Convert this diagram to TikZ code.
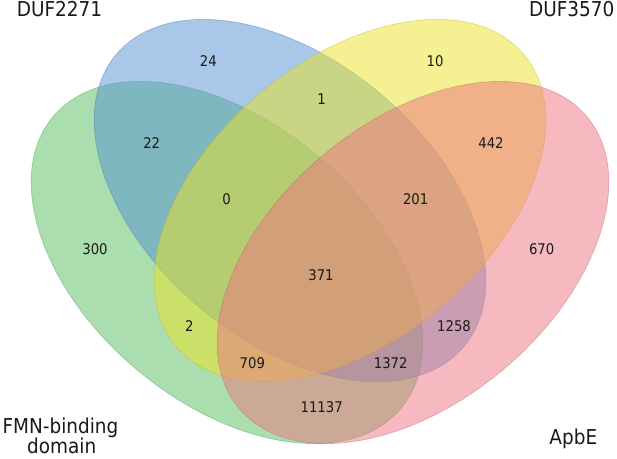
\documentclass[tikz,border=0pt]{standalone}
\usepackage{fontspec}
\setmainfont{DejaVu Sans}[FakeStretch=0.9]
\definecolor{cgreen}{RGB}{88,190,95}
\definecolor{cblue}{RGB}{85,145,210}
\definecolor{cyellow}{RGB}{236,226,36}
\definecolor{cred}{RGB}{238,116,128}
\tikzset{
  vset/.style={fill opacity=0.5, draw opacity=0.45, line width=0.6pt},
  num/.style={font=\fontsize{14.7}{16}\selectfont, inner sep=0pt, anchor=center, text=black!90},
  lab/.style={font=\fontsize{20.5}{24}\selectfont, inner sep=0pt, anchor=base, text=black!90}
}
\begin{document}
\begin{tikzpicture}[x=1pt,y=-1pt]
\fill[white] (0,0) rectangle (617,458);
\useasboundingbox (0,0) rectangle (617,458);
% sets
\filldraw[vset, fill=cgreen, draw=cgreen!80!black, rotate around={-40:(227,262.5)}] (227,262.5) ellipse [x radius=227, y radius=140];
\filldraw[vset, fill=cblue, draw=cblue!80!black, rotate around={-40:(290,200.5)}] (290,200.5) ellipse [x radius=227, y radius=140];
\filldraw[vset, fill=cyellow, draw=cyellow!80!black, rotate around={40:(350,200.5)}] (350,200.5) ellipse [x radius=227, y radius=140];
\filldraw[vset, fill=cred, draw=cred!80!black, rotate around={40:(413,262.5)}] (413,262.5) ellipse [x radius=227, y radius=140];
% counts
\node[num] (n24) at (208.3,61) {24};
\node[num] (n10) at (435,61) {10};
\node[num] (n1) at (321.7,99.3) {1};
\node[num] (n22) at (151.7,143.3) {22};
\node[num] (n442) at (491,142.7) {442};
\node[num] (n0) at (226.7,199.3) {0};
\node[num] (n201) at (415.7,199.3) {201};
\node[num] (n300) at (95,249.3) {300};
\node[num] (n670) at (541.7,249.3) {670};
\node[num] (n371) at (321,275) {371};
\node[num] (n2) at (189.3,325.7) {2};
\node[num] (n1258) at (454,325.7) {1258};
\node[num] (n709) at (252.3,362.7) {709};
\node[num] (n1372) at (390.7,362.7) {1372};
\node[num] (n11137) at (321.7,407) {11137};
% labels
\node[lab] (lduf2271) at (59.5,16.3) {DUF2271};
\node[lab] (lduf3570) at (571.7,16.7) {DUF3570};
\node[lab] (lfmn) at (60.5,433.5) {FMN-binding};
\node[lab] (ldomain) at (61.7,453) {domain};
\node[lab] (lapbe) at (573.3,444) {ApbE};
\end{tikzpicture}
\end{document}
